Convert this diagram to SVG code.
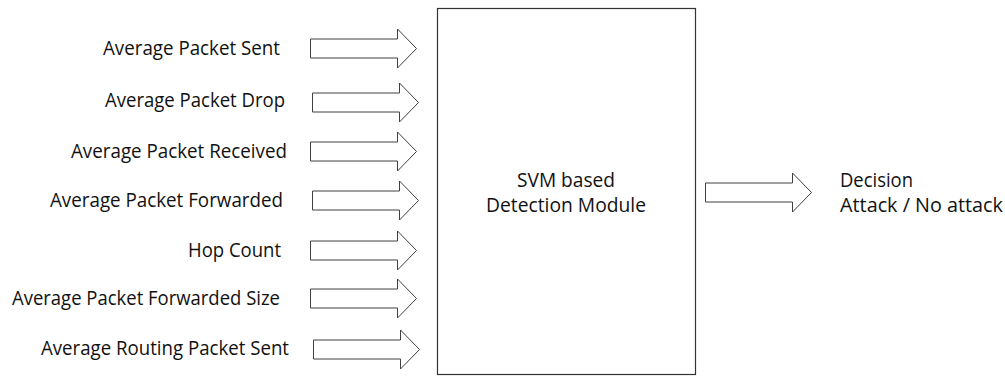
<svg xmlns="http://www.w3.org/2000/svg" xmlns:xlink="http://www.w3.org/1999/xlink" width="1005" height="378" viewBox="0 0 1005 378">
<style>
.lbl{font-family:"Open Sans","Liberation Sans",sans-serif;font-size:19.5px;fill:#111;}
.arrow{fill:#fff;stroke:#404040;stroke-width:1;}
.box{fill:#fff;stroke:#333;stroke-width:1.2;}
</style>
<defs>
<path id="fat" class="arrow" d="M0,-9.5 H87 V-19.5 L106,0 L87,19.5 V9.5 H0 Z"/>
</defs>
<rect width="1005" height="378" fill="#fff"/>
<g id="connectors">
<use xlink:href="#fat" href="#fat" transform="translate(310.5,48.5)"/>
<use xlink:href="#fat" href="#fat" transform="translate(312.5,102.5)"/>
<use xlink:href="#fat" href="#fat" transform="translate(310.5,151.5)"/>
<use xlink:href="#fat" href="#fat" transform="translate(312.5,200.5)"/>
<use xlink:href="#fat" href="#fat" transform="translate(310.5,250.5)"/>
<use xlink:href="#fat" href="#fat" transform="translate(310.5,298.5)"/>
<use xlink:href="#fat" href="#fat" transform="translate(313.5,349.5)"/>
<use xlink:href="#fat" href="#fat" transform="translate(705.5,192.5)"/>
</g>
<g id="in1"><text class="lbl" x="103" y="55" textLength="177" lengthAdjust="spacingAndGlyphs">Average Packet Sent</text></g>
<g id="in2"><text class="lbl" x="105" y="107" textLength="180" lengthAdjust="spacingAndGlyphs">Average Packet Drop</text></g>
<g id="in3"><text class="lbl" x="71" y="158" textLength="216" lengthAdjust="spacingAndGlyphs">Average Packet Received</text></g>
<g id="in4"><text class="lbl" x="50" y="207" textLength="233" lengthAdjust="spacingAndGlyphs">Average Packet Forwarded</text></g>
<g id="in5"><text class="lbl" x="188" y="257" textLength="93" lengthAdjust="spacingAndGlyphs">Hop Count</text></g>
<g id="in6"><text class="lbl" x="12" y="305" textLength="268" lengthAdjust="spacingAndGlyphs">Average Packet Forwarded Size</text></g>
<g id="in7"><text class="lbl" x="41" y="355" textLength="248" lengthAdjust="spacingAndGlyphs">Average Routing Packet Sent</text></g>
<g id="svm">
<rect class="box" x="437.5" y="8.5" width="258" height="366"/>
<text class="lbl" x="517" y="187" textLength="98" lengthAdjust="spacingAndGlyphs">SVM based</text>
<text class="lbl" x="486" y="212" textLength="160" lengthAdjust="spacingAndGlyphs">Detection Module</text>
</g>
<g id="decision">
<text class="lbl" x="840" y="187" textLength="73" lengthAdjust="spacingAndGlyphs">Decision</text>
<text class="lbl" x="840" y="212" textLength="163" lengthAdjust="spacingAndGlyphs">Attack / No attack</text>
</g>
</svg>
